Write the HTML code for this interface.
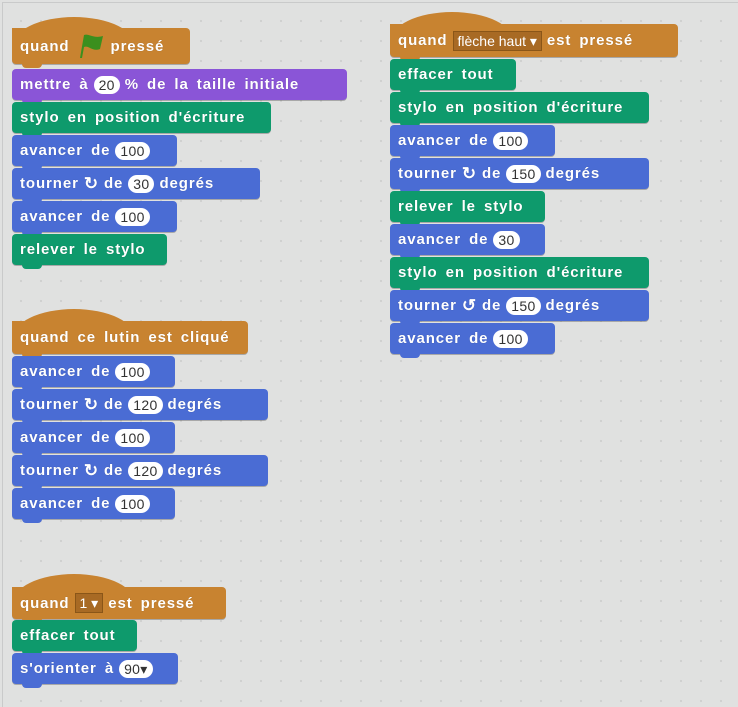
<!DOCTYPE html>
<html><head><meta charset="utf-8"><style>
body{margin:0;width:738px;height:707px;overflow:hidden;background:#e0e1e0;font-family:"Liberation Sans",sans-serif;position:relative}
.frame{position:absolute;left:2px;top:2px;right:0;bottom:0;border-left:1px solid #c9caca;border-top:1px solid #c9caca;
background-image:radial-gradient(circle,#cfd0cf 1px,transparent 1.3px);background-size:20px 20px;background-position:8px 8px}
.b{position:absolute;height:31px;border-radius:4px;box-sizing:border-box;padding-left:8px;display:flex;align-items:center;color:#fff;font-weight:bold;font-size:15px;letter-spacing:0.9px;word-spacing:3px;white-space:nowrap;text-shadow:0 0 1px rgba(0,0,0,.25);box-shadow:0 1px 0 rgba(0,0,0,.25)}
.b::after{content:"";position:absolute;left:10px;bottom:-4px;width:20px;height:5px;background:inherit;border-radius:0 0 4px 4px}
.b span{margin-right:5px}
.m{background:#4a6cd4}.p{background:#0e9a6c}.l{background:#8a55d7}.e{background:#c88330}
.hat{border-top-left-radius:0}
.cap{position:absolute;height:30px;border-radius:50% 50% 0 0/100% 100% 0 0;background:#c88330}
.in{background:#fff;color:#333;font-weight:normal;border-radius:9px;height:18px;line-height:18px;padding:0 5px;font-size:14px;text-shadow:none;word-spacing:0;letter-spacing:0.3px;margin-right:5px}
.dd{background:#a86a24;color:#fff;font-weight:normal;border:1px solid #8a5618;height:18px;line-height:18px;padding:0 4px;font-size:14px;text-shadow:none;word-spacing:0;letter-spacing:0;margin-right:5px}
.ic{font-size:17px;margin-right:5px}
</style></head><body><div class="frame"></div>

<!-- stack 1 -->
<div class="cap" style="left:12px;top:17px;width:124px"></div>
<div class="b e hat" style="left:12px;top:28px;width:178px;height:36px"><span>quand</span><svg width="30" height="26" viewBox="0 0 30 26" style="margin-right:6px"><path d="M5 25 L9 2 C14 0 18 6 28 3 L25 16 C17 19 14 12 9 14 L7 25Z" fill="#3b8f1e"/></svg><span>pressé</span></div>
<div class="b l" style="left:12px;top:69px;width:335px"><span>mettre à</span><span class="in">20</span><span>% de la taille initiale</span></div>
<div class="b p" style="left:12px;top:102px;width:259px"><span>stylo en position d'écriture</span></div>
<div class="b m" style="left:12px;top:135px;width:165px"><span>avancer de</span><span class="in">100</span></div>
<div class="b m" style="left:12px;top:168px;width:248px"><span>tourner</span><span class="ic">↻</span><span>de</span><span class="in">30</span><span>degrés</span></div>
<div class="b m" style="left:12px;top:201px;width:165px"><span>avancer de</span><span class="in">100</span></div>
<div class="b p" style="left:12px;top:234px;width:155px"><span>relever le stylo</span></div>

<!-- stack 2 -->
<div class="cap" style="left:390px;top:12px;width:124px"></div>
<div class="b e hat" style="left:390px;top:24px;width:288px;height:33px"><span>quand</span><span class="dd">flèche haut ▾</span><span>est pressé</span></div>
<div class="b p" style="left:390px;top:59px;width:126px"><span>effacer tout</span></div>
<div class="b p" style="left:390px;top:92px;width:259px"><span>stylo en position d'écriture</span></div>
<div class="b m" style="left:390px;top:125px;width:165px"><span>avancer de</span><span class="in">100</span></div>
<div class="b m" style="left:390px;top:158px;width:259px"><span>tourner</span><span class="ic">↻</span><span>de</span><span class="in">150</span><span>degrés</span></div>
<div class="b p" style="left:390px;top:191px;width:155px"><span>relever le stylo</span></div>
<div class="b m" style="left:390px;top:224px;width:155px"><span>avancer de</span><span class="in">30</span></div>
<div class="b p" style="left:390px;top:257px;width:259px"><span>stylo en position d'écriture</span></div>
<div class="b m" style="left:390px;top:290px;width:259px"><span>tourner</span><span class="ic">↺</span><span>de</span><span class="in">150</span><span>degrés</span></div>
<div class="b m" style="left:390px;top:323px;width:165px"><span>avancer de</span><span class="in">100</span></div>

<!-- stack 3 -->
<div class="cap" style="left:12px;top:309px;width:124px"></div>
<div class="b e hat" style="left:12px;top:321px;width:236px;height:33px"><span>quand ce lutin est cliqué</span></div>
<div class="b m" style="left:12px;top:356px;width:163px"><span>avancer de</span><span class="in">100</span></div>
<div class="b m" style="left:12px;top:389px;width:256px"><span>tourner</span><span class="ic">↻</span><span>de</span><span class="in">120</span><span>degrés</span></div>
<div class="b m" style="left:12px;top:422px;width:163px"><span>avancer de</span><span class="in">100</span></div>
<div class="b m" style="left:12px;top:455px;width:256px"><span>tourner</span><span class="ic">↻</span><span>de</span><span class="in">120</span><span>degrés</span></div>
<div class="b m" style="left:12px;top:488px;width:163px"><span>avancer de</span><span class="in">100</span></div>

<!-- stack 4 -->
<div class="cap" style="left:12px;top:574px;width:124px"></div>
<div class="b e hat" style="left:12px;top:587px;width:214px;height:32px"><span>quand</span><span class="dd">1 ▾</span><span>est pressé</span></div>
<div class="b p" style="left:12px;top:620px;width:125px"><span>effacer tout</span></div>
<div class="b m" style="left:12px;top:653px;width:166px"><span>s'orienter à</span><span class="in">90▾</span></div>
</body></html>
